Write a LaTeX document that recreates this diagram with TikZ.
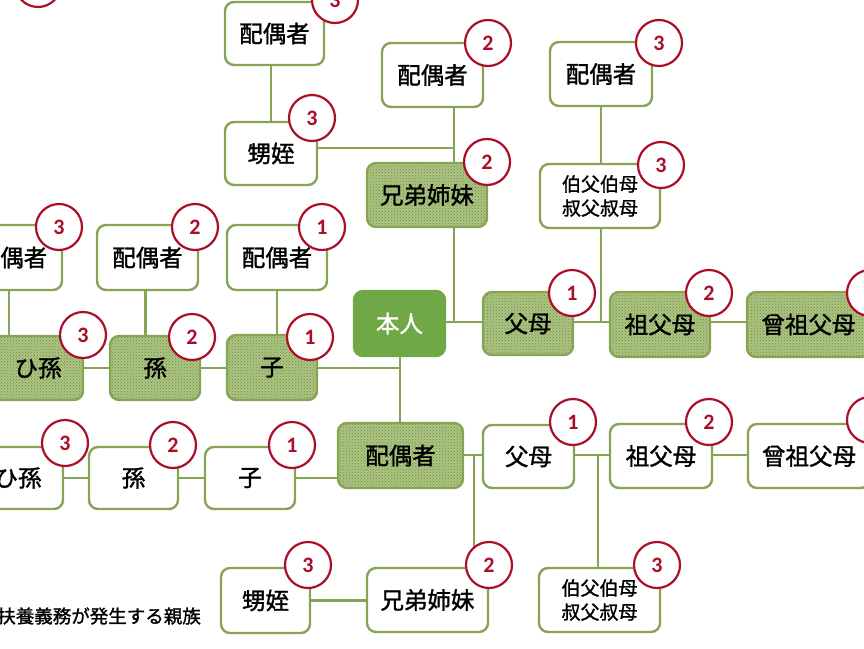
\documentclass[tikz,border=0pt]{standalone}
\usepackage{fontspec}
\setmainfont{Noto Sans CJK JP}[RawFeature={embolden=1.3}]
\newfontfamily\numfont{Carlito}
\usetikzlibrary{patterns}
\definecolor{lineg}{RGB}{134,164,84}
\definecolor{shadeg}{RGB}{172,196,130}
\definecolor{dotg}{RGB}{108,140,62}
\definecolor{honing}{RGB}{112,168,70}
\definecolor{circred}{RGB}{172,14,40}
\pgfdeclarelayer{bg}
\pgfsetlayers{bg,main}
\begin{document}
\begin{tikzpicture}[x=1pt,y=-1pt,
  box/.style={draw=lineg, line width=2.4pt, rounded corners=9pt, fill=white, inner sep=0pt,
    text=black, font=\fontsize{23.5}{26}\selectfont, align=center},
  shbox/.style={box, fill=none, preaction={fill=shadeg},
    preaction={pattern=crosshatch dots, pattern color=dotg}},
  mainbox/.style={box, fill=honing, draw=honing, text=white},
  small/.style={font=\fontsize{19}{24}\selectfont},
  wh/.style 2 args={minimum width=#1pt, minimum height=#2pt},
  circ/.style={circle, draw=circred, line width=2.2pt, fill=white, minimum size=46pt,
    inner sep=0pt, text=circred, font=\numfont\bfseries\fontsize{22}{22}\selectfont},
  conn/.style={draw=lineg, line width=2.4pt}]
\useasboundingbox (0,0) rectangle (864,648);
\clip (0,0) rectangle (864,648);

% ---- boxes ----
\node[box, wh={99}{63}] (spA) at (274.5,33.5) {配偶者};
\node[box, wh={92}{63}] (oiA) at (271,153.5) {甥姪};
\node[box, wh={101}{64}] (spB) at (432.5,75) {配偶者};
\node[shbox, wh={120}{64}] (sibA) at (427,195) {兄弟姉妹};
\node[box, wh={102}{64}] (spC) at (601,74) {配偶者};
\node[box, small, wh={120}{64}] (uncA) at (600,196) {伯父伯母\\叔父叔母};
\node[mainbox, wh={91}{65}] (honin) at (399.5,323.5) {本人};
\node[shbox, wh={90}{63}] (parA) at (528,323.5) {父母};
\node[shbox, wh={100}{65}] (gpA) at (660,324.5) {祖父母};
\node[shbox, wh={123}{65}] (ggpA) at (808.5,324.5) {曾祖父母};
\node[box, wh={100}{65}] (spL1) at (277,257.5) {配偶者};
\node[box, wh={101}{65}] (spL2) at (147.5,257.5) {配偶者};
\node[box, wh={100}{65}] (spL3) at (12,257.5) {配偶者};
\node[shbox, wh={90}{65}] (chA) at (272,367.5) {子};
\node[shbox, wh={90}{64}] (gcA) at (155,368) {孫};
\node[shbox, wh={90}{64}] (ggcA) at (38,368) {ひ孫};
\node[shbox, wh={125}{65}] (spD) at (400.5,455.5) {配偶者};
\node[box, wh={90}{62}] (chB) at (250,478) {子};
\node[box, wh={89}{62}] (gcB) at (133.5,478) {孫};
\node[box, wh={90}{62}] (ggcB) at (18,478) {ひ孫};
\node[box, wh={91}{63}] (parB) at (528.5,456.5) {父母};
\node[box, wh={102}{64}] (gpB) at (661,456) {祖父母};
\node[box, wh={122}{64}] (ggpB) at (809,456) {曾祖父母};
\node[box, small, wh={121}{64}] (uncB) at (599.5,600) {伯父伯母\\叔父叔母};
\node[box, wh={121}{64}] (sibB) at (427.5,600) {兄弟姉妹};
\node[box, wh={89}{65}] (oiB) at (265.5,600.5) {甥姪};

\node[anchor=east, inner sep=0pt, font=\fontsize{18.5}{20}\selectfont] (legend) at (201,616) {扶養義務が発生する親族};

% ---- junctions ----
\coordinate (jA) at (454,148);
\coordinate (jB) at (454,322);
\coordinate (jC) at (601,322);
\coordinate (jD) at (400,368);
\coordinate (jE) at (474,455);
\coordinate (jF) at (598,455);

% ---- connectors ----
\begin{pgfonlayer}{bg}
\draw[conn] (oiA.north) -- (oiA.north |- spA.south);
\draw[conn] (jA -| oiA.east) -- (jA);
\draw[conn] (spB.south -| jA) -- (jB);
\draw[conn] (jB -| honin.east) -- (jB -| parA.west);
\draw[conn] (spC.south) -- (jC);
\draw[conn] (jB -| parA.east) -- (jB -| ggpA.west);
\draw[conn] (spL1.south) -- (spL1.south |- chA.north);
\draw[conn] ([xshift=-2pt]spL2.south) -- ([xshift=-2pt]spL2.south |- gcA.north);
\draw[conn] ([xshift=-3pt]spL3.south) -- ([xshift=-3pt]spL3.south |- ggcA.north);
\draw[conn] (jD -| ggcA.east) -- (jD);
\draw[conn] (honin.south -| jD) -- (spD.north -| jD);
\draw[conn] (ggcB.east) -- (ggcB.east -| spD.west);
\draw[conn] (jE -| spD.east) -- (jE -| parB.west);
\draw[conn] (jE) -- (sibB.north -| jE);
\draw[conn] (jF -| parB.east) -- (jF -| ggpB.west);
\draw[conn] (jF) -- (uncB.north -| jF);
\draw[conn] (oiB.east) -- (oiB.east -| sibB.west);
\end{pgfonlayer}

% ---- degree circles ----
\node[circ] (c0) at (38,-16) {};
\node[circ] (c1) at (335,0) {3};
\node[circ] (c2) at (312,118) {3};
\node[circ] (c3) at (488,43) {2};
\node[circ] (c4) at (487,162) {2};
\node[circ] (c5) at (659,43) {3};
\node[circ] (c6) at (661,165) {3};
\node[circ] (c7) at (572,293) {1};
\node[circ] (c8) at (709,293) {2};
\node[circ] (c9) at (870,293) {3};
\node[circ] (c10) at (322,227) {1};
\node[circ] (c11) at (195,227) {2};
\node[circ] (c12) at (59,227) {3};
\node[circ] (c13) at (310,337) {1};
\node[circ] (c14) at (192,337) {2};
\node[circ] (c15) at (83,335) {3};
\node[circ] (c16) at (292,445) {1};
\node[circ] (c17) at (173,445) {2};
\node[circ] (c18) at (65,443) {3};
\node[circ] (c19) at (573,422) {1};
\node[circ] (c20) at (709,422) {2};
\node[circ] (c21) at (870,420) {3};
\node[circ] (c22) at (657,565) {3};
\node[circ] (c23) at (489,565) {2};
\node[circ] (c24) at (308,565) {3};
\end{tikzpicture}
\end{document}
